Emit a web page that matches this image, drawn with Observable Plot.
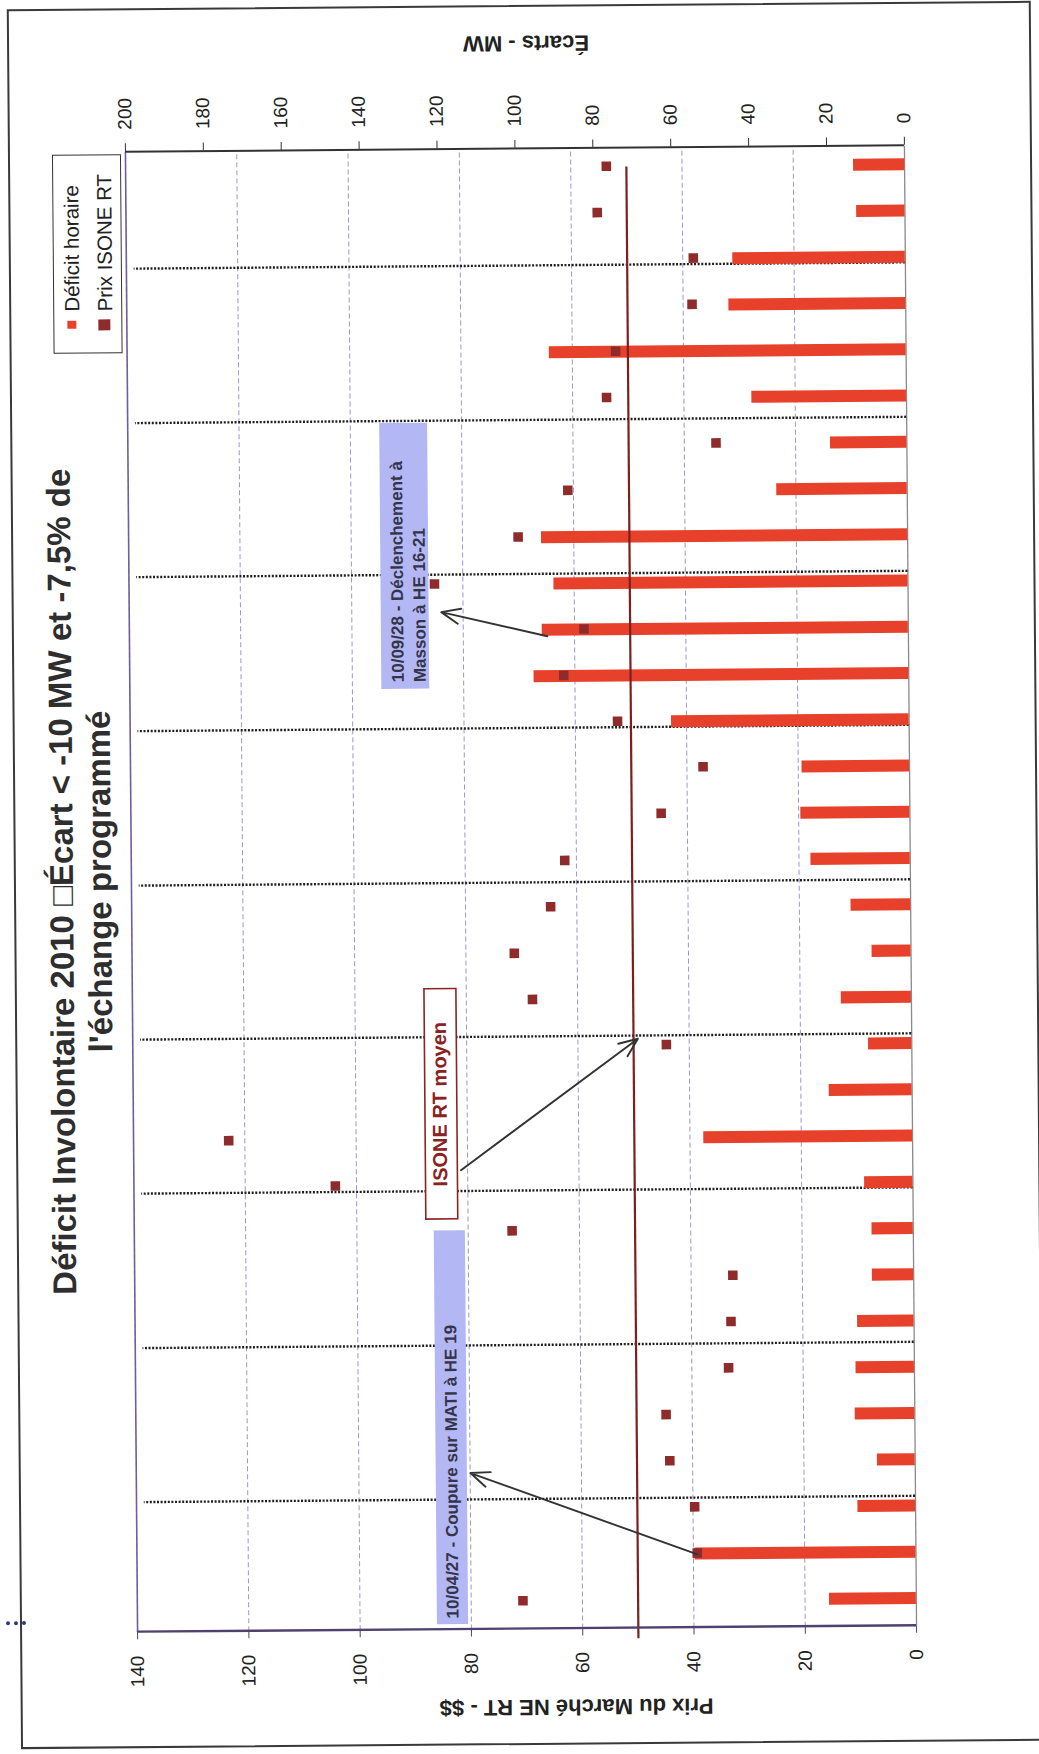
<!DOCTYPE html>
<html>
<head>
<meta charset="utf-8">
<script src="https://cdn.jsdelivr.net/npm/d3@7"></script>
<script src="https://cdn.jsdelivr.net/npm/@observablehq/plot@0.6"></script>
<style>
html,body{margin:0;padding:0;background:#fff;overflow:hidden;}
body{width:1039px;height:1754px;position:relative;font-family:"Liberation Sans",Arial,sans-serif;color:#222;}
#page{position:absolute;left:0;top:0;width:1754px;height:1039px;transform-origin:0 0;
  transform:translate(521px,889px) rotate(-0.47deg) translate(-521px,-889px) translate(0px,1754px) rotate(-90deg);}
#border{position:absolute;left:9px;top:14px;width:1740px;height:1024px;box-sizing:border-box;border:2px solid #3a3a3a;}
#title{position:absolute;left:276px;width:1200px;top:43px;text-align:center;font-weight:bold;font-size:33px;line-height:38px;color:#2e2e2e;white-space:nowrap;}
#chart{position:absolute;left:0;top:0;}
#legend{position:absolute;left:1404px;top:58px;width:199px;height:69px;box-sizing:border-box;border:1.5px solid #333;background:#fff;font-size:20.5px;}
#legend .sw{position:absolute;}
#legend .lb{position:absolute;left:41px;line-height:24px;white-space:nowrap;color:#222;}
.axtitle{position:absolute;transform:translate(-50%,-50%) rotate(-90deg);font-weight:bold;font-size:22px;white-space:nowrap;color:#222;}
#stub{position:absolute;left:133px;top:0px;height:20px;border-left:4px dotted #2a3a7a;}
</style>
</head>
<body>
<div id="page">
  <div id="border"></div>
  <div id="stub"></div>
  <div id="title">Déficit Involontaire 2010 □Écart &lt; -10 MW et -7,5% de<br>l'échange programmé</div>
  <div id="chart"></div>
  <div id="legend">
    <div class="sw" style="left:24px;top:13px;width:8px;height:9px;background:#e8412b"></div>
    <div class="lb" style="top:6px">Déficit horaire</div>
    <div class="sw" style="left:22px;top:44px;width:11px;height:12px;background:#8e2c2c"></div>
    <div class="lb" style="top:39px">Prix ISONE RT</div>
  </div>
  <div class="axtitle" style="left:47px;top:570px">Prix du Marché NE RT - $$</div>
  <div class="axtitle" style="left:1711px;top:533px">Écarts - MW</div>
</div>
<script>
// ---- data (category index 0 = first hour event) ----
const categories = d3.range(32);
const ecarts = [22.3, 56.7, 14.8, 9.7, 15.3, 15.0, 14.5, 10.6, 10.6, 12.4, 53.6, 21.3, 11.1, 18.0, 10.0, 15.3,
                25.5, 28.0, 27.6, 61.0, 96.2, 94.0, 90.9, 94.0, 33.5, 19.6, 39.7, 91.6, 45.4, 44.3, 12.4, 13.1];
const prix = [70.7, 39.3, 39.7, 44.1, 44.7, 33.4, 32.9, 32.5, 72.1, 103.8, 122.9, null, 44.1, 68.1, 71.3, 64.7,
              62.1, 44.7, 37.1, 52.4, 62.0, 58.3, 85.1, 70.0, 61.0, 34.3, 53.9, 52.2, 38.4, 38.1, 55.3, 53.6];
const isoneMoyen = 50;
const prixTicks = [0, 20, 40, 60, 80, 100, 120, 140];
const ecartTicks = [0, 20, 40, 60, 80, 100, 120, 140, 160, 180, 200];
const dividers = [2.2, 5.53, 8.87, 12.2, 15.53, 18.87, 22.2, 25.53, 28.87];

// annotations (category index, MW units)
const notes = [
  {x: 19.88, y: 128.65, text: "10/09/28 - Déclenchement à\nMasson à HE 16-21"},
  {x: -0.37, y: 119.4, text: "10/04/27 - Coupure sur MATI à HE 19"}
];
const noteBoxes = [
  {x1: 19.75, x2: 25.5, y1: 123, y2: 135.3},
  {x1: -0.48, x2: 8.03, y1: 115, y2: 123}
];
const avgBox = [{x1: 8.28, x2: 13.26, y1: 116.8, y2: 125}];
const avgLabel = [{x: 10.75, y: 121.2, text: "ISONE RT moyen"}];
const arrows = [
  {x1: 20.85, y1: 92.7, x2: 21.39, y2: 119.9},
  {x1: 0.97, y1: 56.1, x2: 2.77, y2: 114.2},
  {x1: 9.32, y1: 116.0, x2: 12.13, y2: 70.3}
];

const k = 200 / 140; // MW units per $ (both axes share the plot height)
const xDomain = [-0.6, 31.4];
const rows = categories.map((c, i) => ({i: c, ecart: ecarts[i], prix: prix[i]}));

const chart = Plot.plot({
  width: 1754, height: 1039,
  marginLeft: 125, marginRight: 149, marginTop: 131, marginBottom: 129,
  style: {background: "transparent", fontFamily: "Liberation Sans, Arial, sans-serif", fontSize: "19px", color: "#222", overflow: "visible"},
  x: {type: "linear", domain: xDomain, axis: null},
  y: {domain: [0, 200], axis: null},
  marks: [
    Plot.ruleY(prixTicks.filter(p => p > 0 && p < 140), {y: p => p * k, stroke: "#9a98c8", strokeWidth: 1, strokeDasharray: "5,3"}),
    Plot.ruleY([140], {y: p => p * k, stroke: "#6e5e9c", strokeWidth: 1.6}),
    Plot.ruleY([0], {stroke: "#8a8a8a", strokeWidth: 1.3}),
    Plot.ruleX(dividers, {y1: 0, y2: 198, stroke: "#1e1e1e", strokeWidth: 2.4, strokeDasharray: "2,1.6"}),
    Plot.rectY(rows, {x1: d => d.i - 0.13, x2: d => d.i + 0.13, y1: 0, y2: "ecart", fill: "#e8412b"}),
    Plot.ruleY([isoneMoyen], {y: p => p * k, x1: -0.82, x2: 31, stroke: "#7d1f1f", strokeWidth: 2.2}),
    Plot.dot(rows.filter(d => d.prix != null), {x: "i", y: d => d.prix * k, symbol: "square", r: 5.4, fill: "#8e2c2c", stroke: "none"}),
    Plot.rect(noteBoxes, {x1: "x1", x2: "x2", y1: "y1", y2: "y2", fill: "#b3b7f3"}),
    Plot.rect(avgBox, {x1: "x1", x2: "x2", y1: "y1", y2: "y2", fill: "white", stroke: "#8b2424", strokeWidth: 1.6}),
    Plot.text(notes, {x: "x", y: "y", text: "text", textAnchor: "start", fontSize: 17, fontWeight: "bold", lineHeight: 1.3, fill: "#34344a"}),
    Plot.text(avgLabel, {x: "x", y: "y", text: "text", textAnchor: "middle", fontSize: 20, fontWeight: "bold", fill: "#8b2222"}),
    Plot.arrow(arrows, {x1: "x1", y1: "y1", x2: "x2", y2: "y2", stroke: "#333", strokeWidth: 1.9, headLength: 16, headAngle: 45}),
    Plot.ruleX([xDomain[0]], {stroke: "#4f4170", strokeWidth: 2.4}),
    Plot.ruleX([xDomain[1]], {stroke: "#333", strokeWidth: 2}),
    Plot.axisY(prixTicks.map(p => p * k), {anchor: "left", tickFormat: d => String(Math.round(d / k)), tickSize: 7, tickPadding: 17, fontSize: 19, stroke: "#4f4170", label: null}),
    Plot.axisY(ecartTicks, {anchor: "right", tickSize: 8, tickPadding: 14, fontSize: 19, stroke: "#333", label: null})
  ]
});
document.getElementById("chart").appendChild(chart);
</script>
</body>
</html>
